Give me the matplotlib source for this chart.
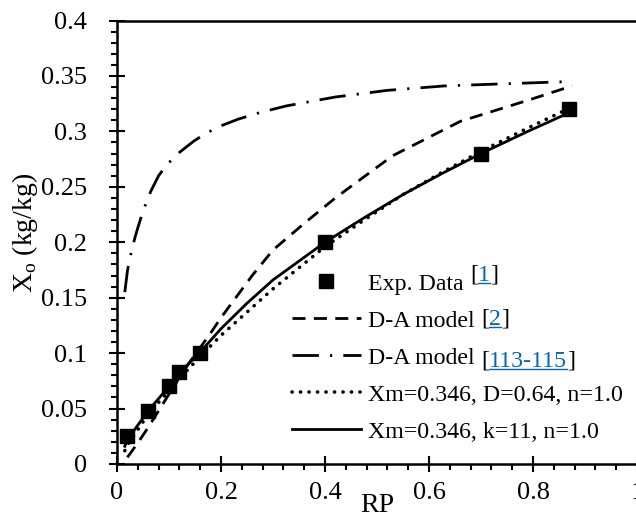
import numpy as np
import matplotlib
matplotlib.use("Agg")
import matplotlib.pyplot as plt
from matplotlib.ticker import MultipleLocator, FormatStrFormatter
from matplotlib.lines import Line2D

# --- datos ---
rp_exp = [0.02, 0.06, 0.10, 0.12, 0.16, 0.40, 0.70, 0.87]
xo_exp = [0.025, 0.048, 0.070, 0.083, 0.100, 0.200, 0.280, 0.320]

# D-A model [2] (discontinua)
rp_da2 = [0.02, 0.04, 0.06, 0.08, 0.10, 0.12, 0.14, 0.16, 0.18, 0.20, 0.26,
          0.30, 0.36, 0.42, 0.53, 0.66, 0.79, 0.875]
xo_da2 = [0.006, 0.019, 0.033, 0.048, 0.063, 0.078, 0.092, 0.105, 0.118, 0.132,
          0.170, 0.193, 0.217, 0.240, 0.278, 0.309, 0.328, 0.341]

# D-A model [113-115] (punto y raya)
rp_da3 = [0.015, 0.02, 0.025, 0.03, 0.035, 0.04, 0.05, 0.065, 0.08, 0.096, 0.12,
          0.147, 0.17, 0.20, 0.233, 0.275, 0.326, 0.42, 0.52, 0.63, 0.75, 0.875]
xo_da3 = [0.155, 0.174, 0.186, 0.196, 0.205, 0.213, 0.228, 0.246, 0.260, 0.270,
          0.281, 0.291, 0.298, 0.305, 0.311, 0.317, 0.323, 0.331, 0.337, 0.341,
          0.343, 0.345]

# Xm=0.346, D=0.64, n=1.0 (punteada) y Xm=0.346, k=11, n=1.0 (continua)
rp_mod = [0.015, 0.02, 0.06, 0.10, 0.12, 0.16, 0.20, 0.25, 0.30, 0.35, 0.40,
          0.475, 0.55, 0.625, 0.70, 0.79, 0.875]
xo_D = [0.012, 0.017, 0.045, 0.066, 0.077, 0.097, 0.116, 0.137, 0.158, 0.177,
        0.196, 0.220, 0.243, 0.263, 0.282, 0.303, 0.322]
xo_k = [0.016, 0.022, 0.048, 0.070, 0.082, 0.101, 0.122, 0.145, 0.166, 0.183,
        0.200, 0.222, 0.243, 0.262, 0.280, 0.300, 0.318]

etiquetas = ["Exp. Data", "D-A model", "D-A model",
             "Xm=0.346, D=0.64, n=1.0", "Xm=0.346, k=11, n=1.0"]
refs = ["1", "2", "113-115", None, None]
subida = [9, 7, 2, 0, 0]   # desplazamiento vertical de las referencias (px)

plt.rcParams["font.family"] = ["Liberation Serif", "DejaVu Serif"]
AZUL = "#0563C1"
FS_LEG = 17.2

fig = plt.figure(figsize=(6.36, 5.19), dpi=100)
ax = fig.add_axes([117 / 636, 55 / 519, 520 / 636, 443.5 / 519])

lw = 2.0
l_da2, = ax.plot(rp_da2, xo_da2, color="black", lw=lw, dashes=(4.7, 3.0))
l_da3, = ax.plot(rp_da3, xo_da3, color="black", lw=lw, dashes=(9.5, 4.0, 0.8, 4.0))
l_D, = ax.plot(rp_mod, xo_D, color="black", lw=2.6, dashes=(0.05, 2.3),
               dash_capstyle="round")
l_k, = ax.plot(rp_mod, xo_k, color="black", lw=lw)
l_exp, = ax.plot(rp_exp, xo_exp, ls="none", marker="s", ms=10, color="black")

ax.set_xlim(0, 1.0)
ax.set_ylim(0, 0.4)
ax.xaxis.set_major_locator(MultipleLocator(0.2))
ax.xaxis.set_minor_locator(MultipleLocator(0.04))
ax.yaxis.set_major_locator(MultipleLocator(0.05))
ax.yaxis.set_minor_locator(MultipleLocator(0.01))
ax.xaxis.set_major_formatter(FormatStrFormatter("%g"))
ax.yaxis.set_major_formatter(FormatStrFormatter("%g"))

for lado in ["left", "bottom", "top"]:
    ax.spines[lado].set_linewidth(1.8)
ax.spines["right"].set_visible(False)

ax.tick_params(which="major", direction="inout", length=11.5, width=1.5,
               labelsize=19)
ax.tick_params(which="minor", direction="out", length=4.5, width=1.5)
ax.tick_params(axis="y", which="major", pad=16)
ax.tick_params(axis="x", which="major", pad=7)

ax.set_xlabel("RP", fontsize=20)
ax.xaxis.set_label_coords(0.5, -0.066)
ax.set_ylabel(r"X$_\mathregular{o}$ (kg/kg)", fontsize=20)
ax.yaxis.set_label_coords(-0.148, 0.52)

leg = ax.legend([l_exp, l_da2, l_da3, l_D, l_k], etiquetas, fontsize=FS_LEG,
                loc="upper left", bbox_to_anchor=(291.7 / 636, (519 - 273) / 519),
                bbox_transform=fig.transFigure, frameon=False, borderpad=0,
                borderaxespad=0, handlelength=2.9, handletextpad=0.28,
                labelspacing=0.64, numpoints=1)

# --- referencias "[n]" con el numero en azul subrayado ---
fig.canvas.draw()
rend = fig.canvas.get_renderer()
for txt, ref, dy in zip(leg.get_texts(), refs, subida):
    if ref is None:
        continue
    bb = txt.get_window_extent(rend)
    _, _, desc = rend.get_text_width_height_descent(txt.get_text(),
                                                     txt.get_fontproperties(), False)
    x = bb.x1 + 7
    y = bb.y0 + desc + dy
    for parte, color in [("[", "black"), (ref, AZUL), ("]", "black")]:
        t = fig.text(x / 636, y / 519, parte, color=color, fontsize=FS_LEG,
                     ha="left", va="baseline")
        tb = t.get_window_extent(rend)
        if color == AZUL:
            fig.add_artist(Line2D([tb.x0 / 636, tb.x1 / 636],
                                  [(y - 2) / 519, (y - 2) / 519],
                                  color=AZUL, lw=1.0, transform=fig.transFigure))
        x = tb.x1

fig.savefig("out.png", dpi=100)
plt.close(fig)
